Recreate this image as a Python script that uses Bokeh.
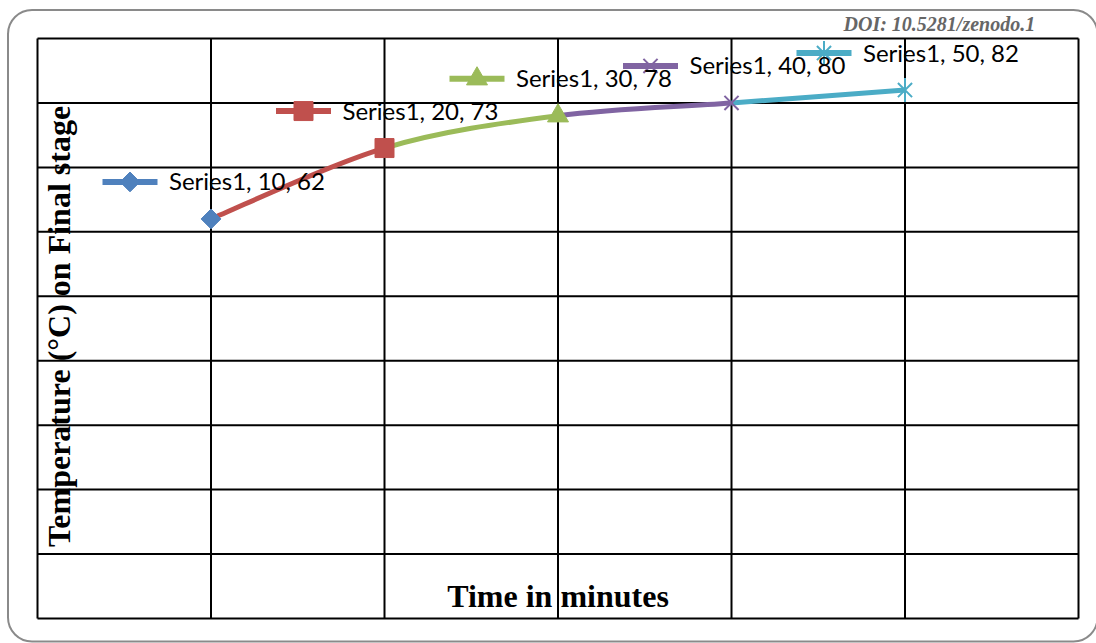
import math
from bokeh.plotting import figure
from bokeh.models import Range1d, Label, BoxAnnotation
from bokeh.core.properties import value
from bokeh.embed import file_html
from bokeh.resources import INLINE

# ---------------- data ----------------
series_name = "Series1"
time_min = [10, 20, 30, 40, 50]
temperature = [62, 73, 78, 80, 82]
point_colors = ["#4F81BD", "#C0504D", "#9BBB59", "#8064A2", "#4BACC6"]
point_markers = ["diamond", "square", "triangle", "x", "star"]
x_ticks = [0, 10, 20, 30, 40, 50, 60]
y_ticks = [0, 10, 20, 30, 40, 50, 60, 70, 80, 90]
x_title = "Time in minutes"
y_title = "Temperature (°C) on Final stage"
doi_text = "DOI: 10.5281/zenodo.1"

# ---------------- layout (pixels) ----------------
W, H = 1096, 643
PL, PR, PT, PB = 37, 1078, 38, 618          # plot-area edges on the canvas
X0, X1 = x_ticks[0], x_ticks[-1]
Y0, Y1 = y_ticks[0], y_ticks[-1]
sx = (PR - PL) / (X1 - X0)
sy = (PB - PT) / (Y1 - Y0)


def dx(px):  # canvas x pixel -> data x
    return X0 + (px - PL) / sx


def dy(py):  # canvas y pixel (from top) -> data y
    return Y0 + (PB - py) / sy


p = figure(width=W, height=H,
           x_range=Range1d(dx(0), dx(W)), y_range=Range1d(dy(H), dy(0)),
           output_backend="svg", toolbar_location=None,
           min_border=0, min_border_left=0, min_border_right=0,
           min_border_top=0, min_border_bottom=0)
p.xaxis.visible = False
p.yaxis.visible = False
p.xgrid.visible = False
p.ygrid.visible = False
p.outline_line_color = None
p.background_fill_color = "white"
p.border_fill_color = "white"

# outer rounded frame
p.add_layout(BoxAnnotation(left=dx(7.5), right=dx(1097), top=dy(9.5), bottom=dy(641),
                           fill_alpha=0, line_color="#8a8a8a", line_alpha=1, line_width=2,
                           border_radius=24, level="underlay"))

# header text at the top right (kept fully inside the canvas)
p.add_layout(Label(x=dx(843), y=dy(12), text=doi_text,
                   text_align="left", text_baseline="top",
                   text_font="Liberation Serif", text_font_style="bold italic",
                   text_font_size="20px", text_color="#666666"))

# grid of the plot area
p.segment(x0=x_ticks, y0=[Y0] * len(x_ticks), x1=x_ticks, y1=[Y1] * len(x_ticks),
          line_color="black", line_width=2)
p.segment(x0=[X0] * len(y_ticks), y0=y_ticks, x1=[X1] * len(y_ticks), y1=y_ticks,
          line_color="black", line_width=2)

# ---------------- smoothed line (Excel-style Catmull-Rom bezier) ----------------
pts = list(zip(time_min, temperature))
n = len(pts)
bx0, by0, bx1, by1, cx0, cy0, cx1, cy1 = [], [], [], [], [], [], [], []
for i in range(1, n):
    P0 = pts[max(i - 2, 0)]
    P1 = pts[i - 1]
    P2 = pts[i]
    P3 = pts[min(i + 1, n - 1)]
    bx0.append(P1[0]); by0.append(P1[1])
    bx1.append(P2[0]); by1.append(P2[1])
    cx0.append(P1[0] + (P2[0] - P0[0]) / 6); cy0.append(P1[1] + (P2[1] - P0[1]) / 6)
    cx1.append(P2[0] - (P3[0] - P1[0]) / 6); cy1.append(P2[1] - (P3[1] - P1[1]) / 6)
p.bezier(x0=bx0, y0=by0, x1=bx1, y1=by1, cx0=cx0, cy0=cy0, cx1=cx1, cy1=cy1,
         line_color=point_colors[1:], line_width=5)


def draw_marker(x, y, kind, color):
    if kind == "diamond":
        p.scatter([x], [y], marker="square", angle=math.pi / 4, size=14,
                  fill_color=color, line_color=color)
    elif kind == "square":
        p.scatter([x], [y], marker="square", size=19, fill_color=color, line_color=color)
    elif kind == "triangle":
        p.scatter([x], [y], marker="triangle", size=21, fill_color=color, line_color=color)
    elif kind == "x":
        p.scatter([x], [y], marker="x", size=20, line_color=color, line_width=2)
    elif kind == "star":
        p.scatter([x], [y], marker="x", size=20, line_color=color, line_width=2)
        p.scatter([x], [y], marker="dash", angle=math.pi / 2, size=24, line_color=color, line_width=2)


for xv, yv, c, m in zip(time_min, temperature, point_colors, point_markers):
    draw_marker(xv, yv, m, c)

# ---------------- data labels with legend keys ----------------
KEY_DX, KEY_DY, KEY_HALF = -81, 37, 27.5
for xv, yv, c, m in zip(time_min, temperature, point_colors, point_markers):
    kx = xv + KEY_DX / sx
    ky = yv + KEY_DY / sy
    p.segment(x0=[kx - KEY_HALF / sx], y0=[ky], x1=[kx + KEY_HALF / sx], y1=[ky],
              line_color=c, line_width=6)
    draw_marker(kx, ky, m, c)

labels = [f"{series_name}, {t}, {v}" for t, v in zip(time_min, temperature)]
p.text(x=time_min, y=temperature, text=labels, x_offset=-42, y_offset=-38,
       text_baseline="middle", text_align="left", text_color="black",
       text_font=value("Lato"), text_font_size="24px")

# ---------------- axis titles inside the plot ----------------
p.add_layout(Label(x=(X0 + X1) / 2, y=dy(595), text=x_title,
                   text_align="center", text_baseline="alphabetic",
                   text_font="Liberation Serif", text_font_style="bold",
                   text_font_size="32px", text_color="black"))
p.add_layout(Label(x=dx(58), y=dy(326), text=y_title, angle=math.pi / 2,
                   text_align="center", text_baseline="alphabetic",
                   text_font="Liberation Serif", text_font_style="bold",
                   text_font_size="32px", text_color="black"))

open("out.html", "w").write(file_html(p, INLINE))
